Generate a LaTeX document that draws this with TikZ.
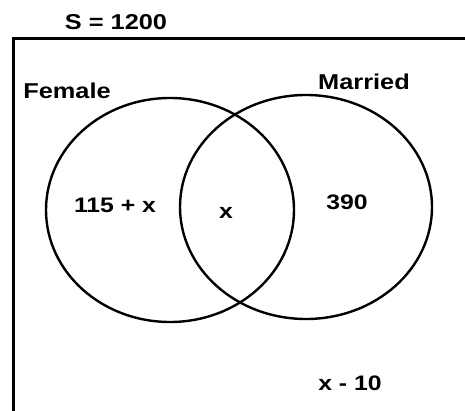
\documentclass[tikz,border=0pt]{standalone}
\usepackage{fontspec}
\setmainfont{Liberation Sans}[FakeStretch=1.18]
\usetikzlibrary{positioning}
\tikzset{
  every picture/.style={line width=2.4pt},
  setlabel/.style={font=\bfseries\fontsize{21.5}{25}\selectfont, inner sep=0pt},
  count/.style={font=\bfseries\fontsize{21}{25}\selectfont, inner sep=0pt},
  universe/.style={draw, line width=3pt},
}
\begin{document}
\begin{tikzpicture}[x=1pt, y=-1pt]
  \useasboundingbox (0,0) rectangle (465,411);
  \clip (0,0) rectangle (465,411);
  % universal set
  \draw[universe] (13,430) -- (13,39) -- (480,39);
  \node[setlabel] (total) at (116,22) {S = 1200};
  % the two sets
  \draw (170,210) ellipse [x radius=124, y radius=112];
  \draw (306,207) ellipse [x radius=126, y radius=112];
  \node[setlabel] (female) at (67,91) {Female};
  \node[setlabel] (married) at (364,82) {Married};
  % counts
  \node[count] (onlyf) at (115,205) {115 + x};
  \node[count] (both) at (226,213) {x};
  \node[count] (onlym) at (347,202) {390};
  \node[count] (neither) at (350,383) {x - 10};
\end{tikzpicture}
\end{document}
